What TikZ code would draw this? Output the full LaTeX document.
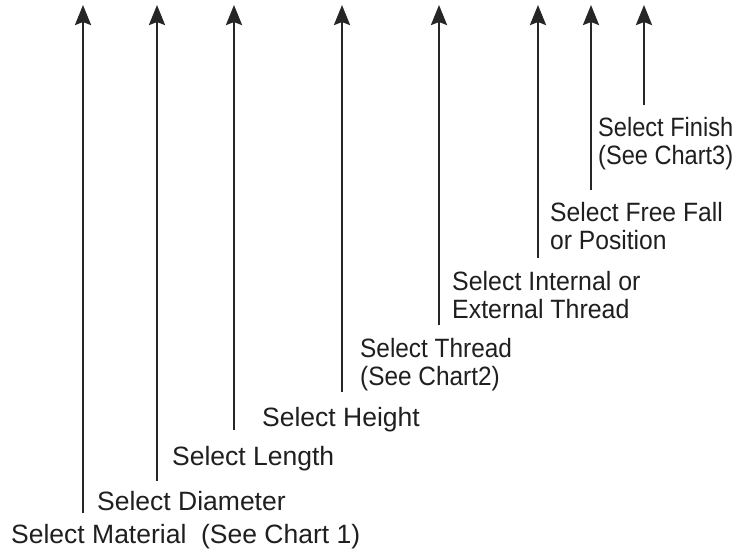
\documentclass[tikz,border=0pt]{standalone}
\usepackage{fontspec}
\setmainfont{Liberation Sans}
\usetikzlibrary{arrows.meta}
\begin{document}
\begin{tikzpicture}[x=1pt,y=-1pt,
  lbl/.style={anchor=base west,inner sep=0pt,align=left,text=black!88,
    font=\fontsize{26.5}{28}\selectfont},
  narrow/.style={font=\fontsize{26.5}{28}\selectfont\addfontfeature{FakeStretch=#1}},
  arr/.style={line width=2.6pt,black!85,-{Stealth[length=20pt,width=16pt,inset=3pt]}}]
\useasboundingbox (0,0) rectangle (749,558);
\fill[white] (0,0) rectangle (749,558);
% labels (multi-line nodes: base = last line's baseline)
\node[lbl] (l1) at (11,543) {Select Material\ \ (See Chart 1)};
\node[lbl] (l2) at (97,510) {Select Diameter};
\node[lbl] (l3) at (172,465) {Select Length};
\node[lbl] (l4) at (262,426) {Select Height};
\node[lbl,narrow=0.92] (l5) at (360,385) {Select Thread\\(See Chart2)};
\node[lbl,narrow=0.94] (l6) at (452,318) {Select Internal or\\External Thread};
\node[lbl,narrow=0.93] (l7) at (550,249) {Select Free Fall\\or Position};
\node[lbl,narrow=0.89] (l8) at (598,164) {Select Finish\\(See Chart3)};
% arrow ends
\coordinate (b1) at (83,513);  \coordinate (t1) at (83,5);
\coordinate (b2) at (157,481); \coordinate (t2) at (157,5);
\coordinate (b3) at (234,430); \coordinate (t3) at (234,5);
\coordinate (b4) at (342,392); \coordinate (t4) at (342,5);
\coordinate (b5) at (439,325); \coordinate (t5) at (439,5);
\coordinate (b6) at (538,258); \coordinate (t6) at (538,5);
\coordinate (b7) at (591,190); \coordinate (t7) at (591,5);
\coordinate (b8) at (644,105); \coordinate (t8) at (644,5);
\foreach \i in {1,...,8} \draw[arr] (b\i) -- (t\i);
\end{tikzpicture}
\end{document}
